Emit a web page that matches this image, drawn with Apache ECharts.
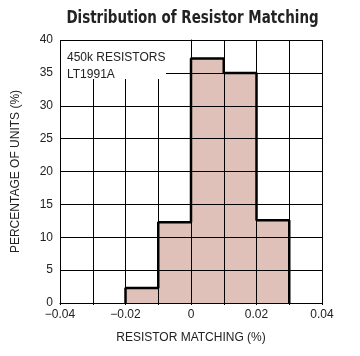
<!DOCTYPE html>
<html>
<head>
<meta charset="utf-8">
<script src="https://cdn.jsdelivr.net/npm/echarts@6/dist/echarts.min.js"></script>
<style>html,body{margin:0;padding:0;background:#fff}#c{width:360px;height:356px}</style>
</head>
<body>
<div id="c"></div>
<script>
const title = "Distribution of Resistor Matching";
const xName = "RESISTOR MATCHING (%)";
const yName = "PERCENTAGE OF UNITS (%)";
const noteLines = ["450k RESISTORS", "LT1991A"];
const binEdges = [-0.02, -0.01, 0, 0.01, 0.02, 0.03];
const percentages = [2.3, 12.3, 37.2, 35.0, 12.6];

const stepData = [[binEdges[0], 0]];
for (let i = 0; i < percentages.length; i++) stepData.push([binEdges[i], percentages[i]]);
stepData.push([binEdges[binEdges.length - 1], percentages[percentages.length - 1]]);
stepData.push([binEdges[binEdges.length - 1], 0]);

const FONT = "Liberation Sans";
const chart = echarts.init(document.getElementById('c'), null, {renderer: 'canvas'});
chart.setOption({
  animation: false,
  grid: {left: 60, right: 38, top: 40, bottom: 53},
  xAxis: {
    type: 'value', min: -0.04, max: 0.04, interval: 0.01, z: 3,
    name: xName, nameLocation: 'middle', nameGap: 29,
    nameTextStyle: {fontFamily: FONT, fontSize: 12, color: '#222'},
    axisLine: {show: true, lineStyle: {color: '#000', width: 1}},
    axisTick: {show: true, length: 2, lineStyle: {color: '#000'}},
    splitLine: {show: true, lineStyle: {color: '#000', width: 1}},
    axisLabel: {
      fontFamily: FONT, fontSize: 12, color: '#222', margin: 6,
      formatter: v => {
        const r = Math.round(v * 100);
        if (r % 2 !== 0) return '';
        const s = (r / 100).toString();
        return s.replace('-', '\u2212');
      }
    }
  },
  yAxis: {
    type: 'value', min: 0, max: 40, interval: 5, z: 3,
    name: yName, nameLocation: 'middle', nameGap: 38,
    nameTextStyle: {fontFamily: FONT, fontSize: 12, color: '#222'},
    axisLine: {show: true, lineStyle: {color: '#000', width: 1}},
    axisTick: {show: true, length: 2, lineStyle: {color: '#000'}},
    splitLine: {show: true, lineStyle: {color: '#000', width: 1}},
    axisLabel: {fontFamily: FONT, fontSize: 12, color: '#222', margin: 7}
  },
  series: [
    {
      type: 'line', step: 'end', data: stepData, z: 1, symbol: 'none',
      lineStyle: {width: 0, opacity: 0},
      areaStyle: {color: '#dfc1b9', opacity: 1}
    },
    {
      type: 'line', step: 'end', data: stepData, z: 5, symbol: 'none',
      lineStyle: {color: '#000', width: 2.5}
    }
  ],
  graphic: [
    {type: 'text', z: 12, x: 192.5, y: 18.8, scaleX: 0.83, scaleY: 1,
     style: {text: title, fontFamily: "DejaVu Sans Condensed", fontWeight: 'bold', fontSize: 18,
             fill: '#222', align: 'center', verticalAlign: 'middle'}},
    {type: 'rect', z: 10, shape: {x: 61, y: 41, width: 105, height: 38}, style: {fill: '#fff'}},
    {type: 'text', z: 11, left: 67, top: 49,
     style: {text: noteLines.join('\n'), fontFamily: FONT, fontSize: 12, lineHeight: 17, fill: '#222'}}
  ]
});
</script>
</body>
</html>
